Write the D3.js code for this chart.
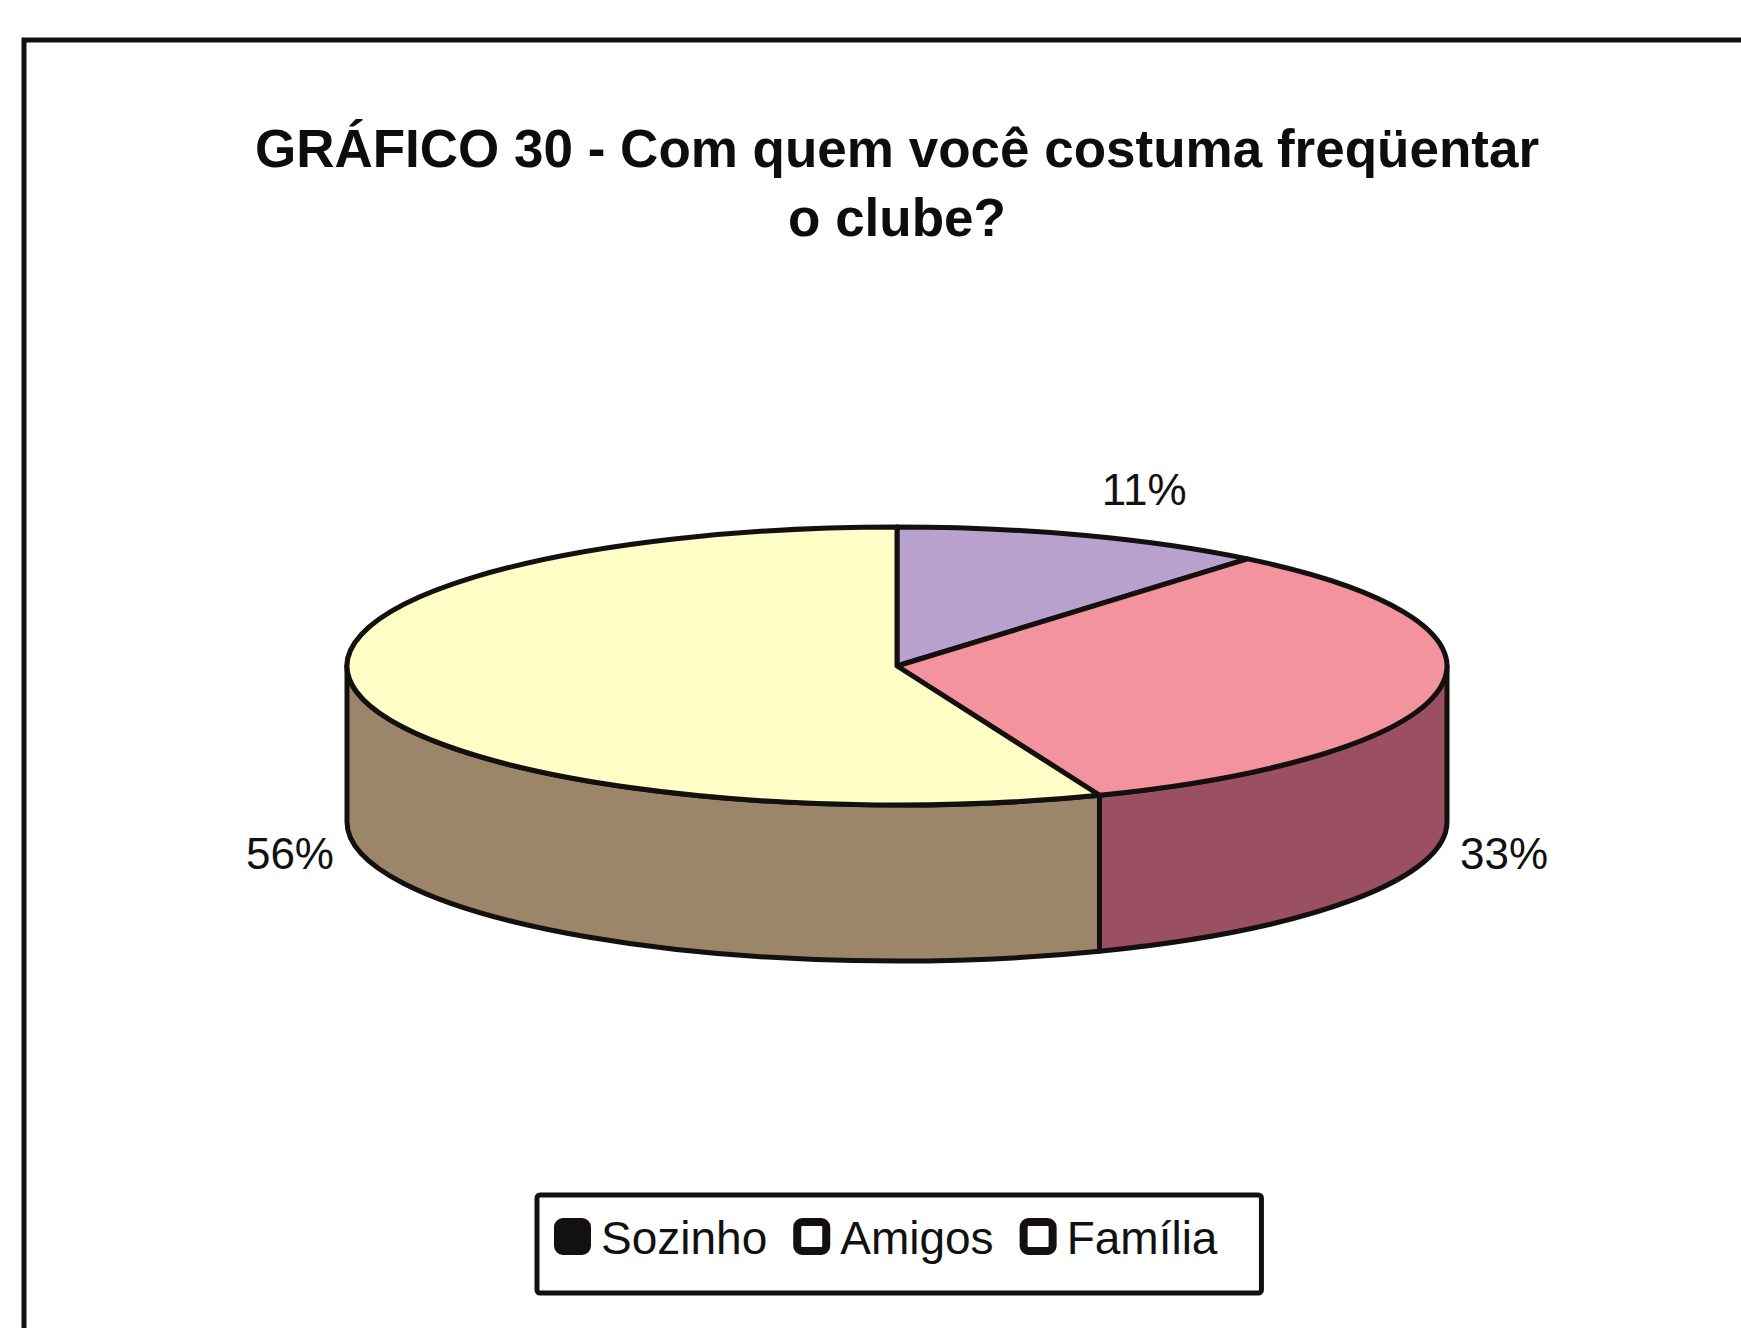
<!DOCTYPE html>
<html>
<head>
<meta charset="utf-8">
<script src="https://cdn.jsdelivr.net/npm/d3@7"></script>
<style>
  html, body { margin: 0; padding: 0; background: #ffffff; }
  svg { display: block; }
</style>
</head>
<body>
<svg id="chart" width="1741" height="1328"></svg>
<script>
// Survey answers: who the respondent usually goes to the club with
const categories = ["Sozinho", "Amigos", "Família"];
const values = [11, 33, 56];
const valueLabels = ["11%", "33%", "56%"];
const titleLines = ["GRÁFICO 30 - Com quem você costuma freqüentar", "o clube?"];

// Slice colours: top face and the darker outer wall
const topColors = ["#b8a2cd", "#f2939e", "#fefec6"];
const sideColors = ["#7b6b8e", "#9a4f63", "#9b866a"];
// Legend swatches as printed (monochrome)
const legendFills = ["#111111", "#ffffff", "#ffffff"];

const svg = d3.select("#chart");
const ink = "#141010";
const font = "'Liberation Sans', Arial, Helvetica, sans-serif";

// Outer frame (runs off the right and bottom edges)
svg.append("rect")
  .attr("x", 24).attr("y", 40)
  .attr("width", 1800).attr("height", 1400)
  .attr("fill", "none").attr("stroke", ink).attr("stroke-width", 5);

// Title
const title = svg.append("g").attr("font-family", font).attr("font-weight", "bold")
  .attr("font-size", 53).attr("fill", "#0d0d0d").attr("text-anchor", "middle");
title.selectAll("text").data(titleLines).join("text")
  .attr("x", 897)
  .attr("y", (d, i) => 167 + i * 69)
  .text(d => d);

// 3D elliptical pie
const cx = 897, cy = 666, rx = 550, ry = 139, depth = 156;
const arcs = d3.pie().sort(null).value(d => d)(values);
const pt = (a, dy = 0) => [cx + rx * Math.sin(a), cy - ry * Math.cos(a) + dy];

function topPath(d) {
  const [x0, y0] = pt(d.startAngle);
  const [x1, y1] = pt(d.endAngle);
  const large = d.endAngle - d.startAngle > Math.PI ? 1 : 0;
  return `M${cx},${cy}L${x0},${y0}A${rx},${ry} 0 ${large} 1 ${x1},${y1}Z`;
}

function sidePath(d) {
  const a0 = Math.max(d.startAngle, Math.PI / 2);
  const a1 = Math.min(d.endAngle, 3 * Math.PI / 2);
  if (a0 >= a1) return null;
  const [x0, y0] = pt(a0), [x1, y1] = pt(a1);
  const [x2, y2] = pt(a1, depth), [x3, y3] = pt(a0, depth);
  return `M${x0},${y0}A${rx},${ry} 0 0 1 ${x1},${y1}L${x2},${y2}A${rx},${ry} 0 0 0 ${x3},${y3}Z`;
}

const pieG = svg.append("g")
  .attr("stroke", ink).attr("stroke-width", 5).attr("stroke-linejoin", "round");

pieG.selectAll("path.side")
  .data(arcs.filter(d => sidePath(d)))
  .join("path")
  .attr("class", "side")
  .attr("d", sidePath)
  .attr("fill", d => sideColors[d.index]);

pieG.selectAll("path.top")
  .data(arcs)
  .join("path")
  .attr("class", "top")
  .attr("d", topPath)
  .attr("fill", d => topColors[d.index]);

// Percentage labels placed outside the rim at each slice's mid-angle
const labelG = svg.append("g").attr("font-family", font).attr("font-size", 44).attr("fill", "#111");
arcs.forEach(d => {
  const m = (d.startAngle + d.endAngle) / 2;
  const s = Math.sin(m);
  let x, y, anchor;
  if (Math.abs(s) > 0.8) {
    // beside the wall, just below its lower edge
    anchor = s > 0 ? "start" : "end";
    x = cx + s / Math.abs(s) * (rx + 13);
    y = cy + depth + 47;
  } else {
    const [px, py] = pt(m);
    anchor = "middle";
    x = px + s * 180;
    y = py - 30;
  }
  labelG.append("text")
    .attr("x", x).attr("y", y)
    .attr("text-anchor", anchor)
    .text(valueLabels[d.index]);
});

// Legend
const legend = svg.append("g").attr("font-family", font).attr("font-size", 46).attr("fill", "#111");
const box = legend.append("rect")
  .attr("fill", "#fff").attr("stroke", ink).attr("stroke-width", 5).attr("rx", 3);
const sw = 29, baseY = 1254;
let lx = 558;
categories.forEach((c, i) => {
  legend.append("rect")
    .attr("x", lx).attr("y", baseY - 32)
    .attr("width", sw).attr("height", sw)
    .attr("rx", 5)
    .attr("fill", legendFills[i]).attr("stroke", ink).attr("stroke-width", 8);
  const t = legend.append("text").attr("x", lx + sw + 14).attr("y", baseY).text(c);
  const w = t.node().getComputedTextLength();
  lx = lx + sw + 14 + w + (i < categories.length - 1 ? 30 : 0);
});
box.attr("x", 537).attr("y", 1195).attr("width", lx + 44 - 537).attr("height", 98);
</script>
</body>
</html>
